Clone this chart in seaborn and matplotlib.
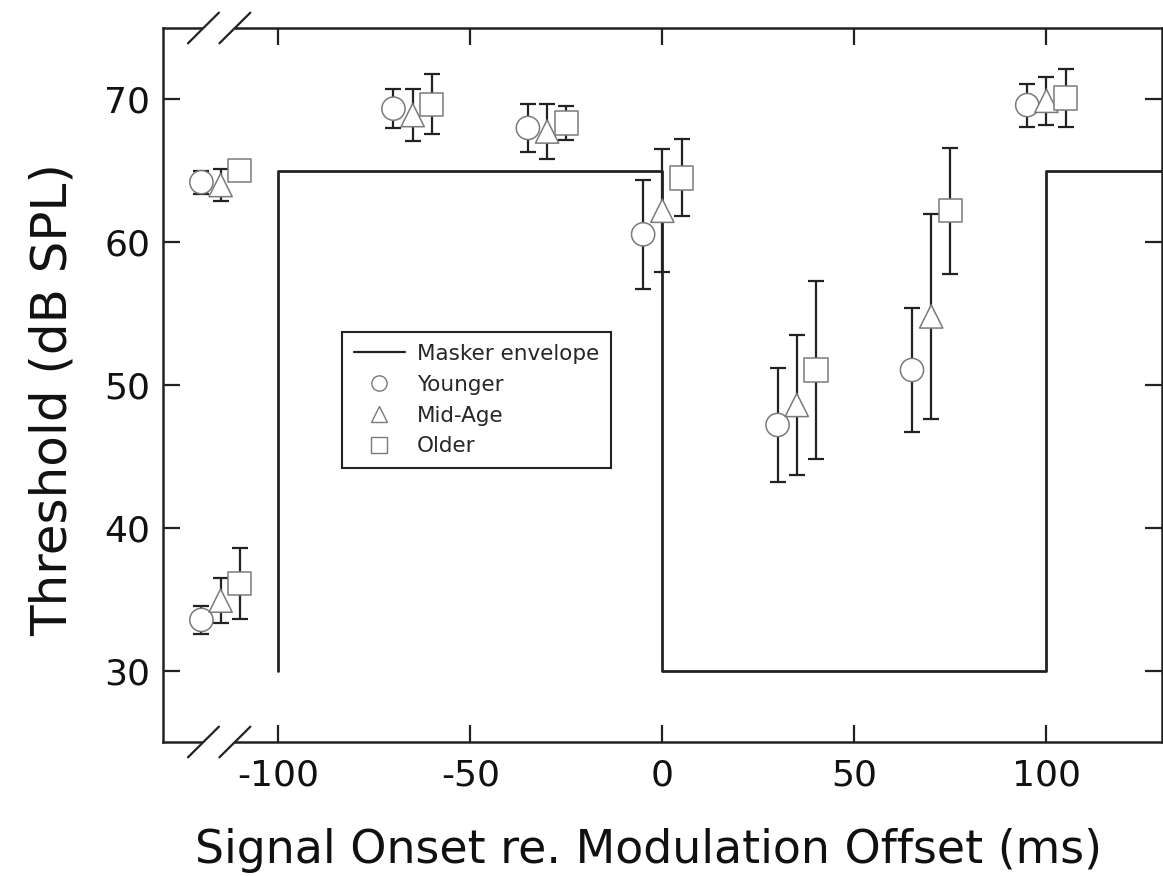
import matplotlib
matplotlib.use("Agg")
import matplotlib.pyplot as plt
import seaborn as sns
import pandas as pd
from matplotlib.lines import Line2D

# ---------------- data ----------------
masker_x = [-100, -100, 0, 0, 100, 100, 130]
masker_y = [30, 65, 65, 30, 30, 65, 65]

groups = ["Younger", "Mid-Age", "Older"]

x_younger = [-120, -120, -70, -35, -5, 30, 65, 95]
y_younger = [64.2, 33.55, 69.35, 68.0, 60.55, 47.2, 51.05, 69.6]
e_younger = [0.8, 1.0, 1.35, 1.7, 3.8, 4.0, 4.35, 1.5]

x_mid = [-115, -115, -65, -30, 0, 35, 70, 100]
y_mid = [64.0, 34.9, 68.9, 67.75, 62.2, 48.6, 54.8, 69.9]
e_mid = [1.1, 1.6, 1.8, 1.9, 4.3, 4.9, 7.2, 1.7]

x_older = [-110, -110, -60, -25, 5, 40, 75, 105]
y_older = [65.0, 36.1, 69.65, 68.35, 64.5, 51.05, 62.2, 70.1]
e_older = [0.5, 2.5, 2.1, 1.2, 2.7, 6.2, 4.4, 2.0]

x_ticks = [-100, -50, 0, 50, 100]
y_ticks = [30, 40, 50, 60, 70]

# ---------------- styling ----------------
sns.set_theme(style="ticks")
plt.rcParams["font.family"] = ["DejaVu Sans"]

INK = "#222222"
EDGE = "#7a7a7a"

df = pd.concat([
    pd.DataFrame({"x": x_younger, "y": y_younger, "e": e_younger, "group": "Younger"}),
    pd.DataFrame({"x": x_mid, "y": y_mid, "e": e_mid, "group": "Mid-Age"}),
    pd.DataFrame({"x": x_older, "y": y_older, "e": e_older, "group": "Older"}),
], ignore_index=True)

markers = {"Younger": "o", "Mid-Age": "^", "Older": "s"}

fig = plt.figure(figsize=(11.63, 8.76), dpi=100)
ax = fig.add_axes([0.14015, 0.15297, 0.8587, 0.8151])

# masker envelope
sns.lineplot(x=masker_x, y=masker_y, sort=False, estimator=None,
             color=INK, linewidth=2.0, ax=ax, zorder=2)

# error bars
ax.errorbar(df["x"], df["y"], yerr=df["e"], fmt="none", ecolor=INK,
            elinewidth=1.6, capsize=5.8, capthick=1.6, zorder=3)

# markers
sns.scatterplot(data=df, x="x", y="y", style="group", markers=markers,
                s=280, color="white", edgecolor=EDGE, linewidth=1.1,
                legend=False, ax=ax, zorder=4)

ax.set_xlim(-130, 130)
ax.set_ylim(25, 75)
ax.set_xticks(x_ticks)
ax.set_yticks(y_ticks)
ax.set_xticklabels([str(v) for v in x_ticks])
ax.set_yticklabels([str(v) for v in y_ticks])
ax.tick_params(direction="in", length=12, width=1.6, color=INK,
               top=True, right=True, labelsize=26, labelcolor="#111111")
ax.tick_params(axis="x", pad=12)
ax.tick_params(axis="y", pad=9)
for sp in ax.spines.values():
    sp.set_visible(True)
    sp.set_color(INK)
    sp.set_linewidth(1.8)

ax.set_xlabel("Signal Onset re. Modulation Offset (ms)", fontsize=33,
              color="#111111")
ax.set_ylabel("Threshold (dB SPL)", fontsize=36, color="#111111")
ax.xaxis.set_label_coords(0.486, -0.12)
ax.yaxis.set_label_coords(-0.086, 0.48)

# axis-break marks ("//") on top and bottom spines
for yb in (0.0, 1.0):
    ax.plot([0.040, 0.072], [yb, yb], transform=ax.transAxes, color="white",
            linewidth=4, clip_on=False, zorder=10, solid_capstyle="butt")
    for xc in (0.0405, 0.072):
        ax.plot([xc - 0.0155, xc + 0.0155], [yb - 0.0215, yb + 0.0215],
                transform=ax.transAxes, color=INK, linewidth=1.6,
                clip_on=False, zorder=11)

# legend
handles = [Line2D([0], [0], color=INK, lw=1.6, label="Masker envelope")]
for g in groups:
    handles.append(Line2D([0], [0], linestyle="none", marker=markers[g],
                          markersize=11, markerfacecolor="white",
                          markeredgecolor=EDGE, markeredgewidth=1.0, label=g))
leg = ax.legend(handles=handles, loc="upper left",
                bbox_to_anchor=(0.179, 0.574), borderaxespad=0,
                fontsize=15.5, frameon=True, fancybox=False, handlelength=2.4,
                labelspacing=0.5, borderpad=0.55, handletextpad=0.55)
leg.get_frame().set_edgecolor(INK)
leg.get_frame().set_linewidth(1.5)
leg.get_frame().set_facecolor("white")
leg.get_frame().set_alpha(1)

fig.savefig("out.png", dpi=100)
